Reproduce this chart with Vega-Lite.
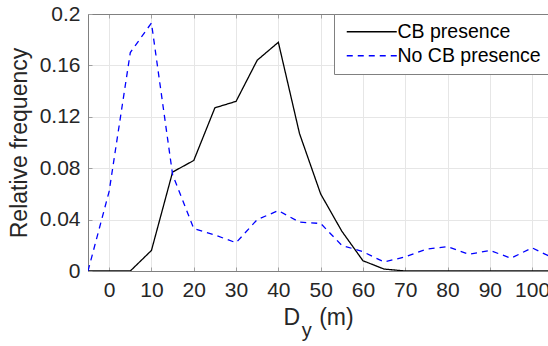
{
  "$schema": "https://vega.github.io/schema/vega-lite/v6.json",
  "width": 460,
  "height": 257,
  "autosize": {"type": "none"},
  "padding": {"left": 88, "top": 14, "right": 0, "bottom": 75},
  "background": "white",
  "config": {
    "view": {"stroke": null},
    "font": "Liberation Sans",
    "axis": {
      "labelFont": "Liberation Sans",
      "titleFont": "Liberation Sans",
      "labelColor": "#262626",
      "titleColor": "#262626",
      "domainColor": "#808080",
      "tickColor": "#a0a0a0",
      "gridColor": "#e6e6e6",
      "labelFontSize": 21,
      "titleFontSize": 23,
      "titleFontWeight": "normal"
    }
  },
  "data": {
    "values": [
      {"x": -5, "v": 0, "s": "CB presence"},
      {"x": 0, "v": 0, "s": "CB presence"},
      {"x": 5, "v": 0, "s": "CB presence"},
      {"x": 10, "v": 0.016, "s": "CB presence"},
      {"x": 15, "v": 0.077, "s": "CB presence"},
      {"x": 20, "v": 0.086, "s": "CB presence"},
      {"x": 25, "v": 0.127, "s": "CB presence"},
      {"x": 30, "v": 0.132, "s": "CB presence"},
      {"x": 35, "v": 0.164, "s": "CB presence"},
      {"x": 40, "v": 0.178, "s": "CB presence"},
      {"x": 45, "v": 0.107, "s": "CB presence"},
      {"x": 50, "v": 0.060, "s": "CB presence"},
      {"x": 55, "v": 0.031, "s": "CB presence"},
      {"x": 60, "v": 0.008, "s": "CB presence"},
      {"x": 65, "v": 0.0015, "s": "CB presence"},
      {"x": 70, "v": 0, "s": "CB presence"},
      {"x": 75, "v": 0, "s": "CB presence"},
      {"x": 80, "v": 0, "s": "CB presence"},
      {"x": 85, "v": 0, "s": "CB presence"},
      {"x": 90, "v": 0, "s": "CB presence"},
      {"x": 95, "v": 0, "s": "CB presence"},
      {"x": 100, "v": 0, "s": "CB presence"},
      {"x": 105, "v": 0, "s": "CB presence"},
      {"x": -5, "v": 0, "s": "No CB presence"},
      {"x": 0, "v": 0.062, "s": "No CB presence"},
      {"x": 5, "v": 0.170, "s": "No CB presence"},
      {"x": 10, "v": 0.193, "s": "No CB presence"},
      {"x": 15, "v": 0.075, "s": "No CB presence"},
      {"x": 20, "v": 0.033, "s": "No CB presence"},
      {"x": 25, "v": 0.028, "s": "No CB presence"},
      {"x": 30, "v": 0.022, "s": "No CB presence"},
      {"x": 35, "v": 0.040, "s": "No CB presence"},
      {"x": 40, "v": 0.047, "s": "No CB presence"},
      {"x": 45, "v": 0.038, "s": "No CB presence"},
      {"x": 50, "v": 0.037, "s": "No CB presence"},
      {"x": 55, "v": 0.020, "s": "No CB presence"},
      {"x": 60, "v": 0.015, "s": "No CB presence"},
      {"x": 65, "v": 0.007, "s": "No CB presence"},
      {"x": 70, "v": 0.011, "s": "No CB presence"},
      {"x": 75, "v": 0.017, "s": "No CB presence"},
      {"x": 80, "v": 0.019, "s": "No CB presence"},
      {"x": 85, "v": 0.013, "s": "No CB presence"},
      {"x": 90, "v": 0.016, "s": "No CB presence"},
      {"x": 95, "v": 0.010, "s": "No CB presence"},
      {"x": 100, "v": 0.018, "s": "No CB presence"},
      {"x": 105, "v": 0.010, "s": "No CB presence"}
    ]
  },
  "layer": [
    {
      "mark": {"type": "line", "opacity": 0},
      "encoding": {
        "x": {
          "field": "x", "type": "quantitative",
          "scale": {"domain": [-5, 103.75], "nice": false, "zero": false},
          "axis": {"orient": "top", "labels": false, "title": null, "grid": false, "values": [0,10,20,30,40,50,60,70,80,90,100], "tickSize": -4, "domain": true}
        },
        "y": {
          "field": "v", "type": "quantitative",
          "scale": {"domain": [0, 0.2], "nice": false},
          "axis": {"orient": "right", "labels": false, "title": null, "grid": false, "ticks": false, "domain": false}
        }
      }
    },
    {
      "layer": [
        {
          "mark": {"type": "line", "strokeWidth": 1.3, "clip": true},
          "encoding": {
            "x": {
              "field": "x", "type": "quantitative",
              "scale": {"domain": [-5, 103.75], "nice": false, "zero": false},
              "axis": {"orient": "bottom", "title": "D\u00a0\u00a0\u00a0(m)", "values": [0,10,20,30,40,50,60,70,80,90,100], "tickSize": -4, "labelPadding": 12, "titlePadding": 6, "grid": true}
            },
            "y": {
              "field": "v", "type": "quantitative",
              "scale": {"domain": [0, 0.2], "nice": false},
              "axis": {"orient": "left", "title": "Relative frequency", "values": [0, 0.04, 0.08, 0.12, 0.16, 0.2], "format": "~g", "tickSize": -4, "labelPadding": 12, "titlePadding": 8, "grid": true}
            },
            "color": {
              "field": "s", "type": "nominal",
              "scale": {"domain": ["CB presence", "No CB presence"], "range": ["#000000", "#0000ff"]},
              "legend": {
                "title": null, "orient": "none", "legendX": 246, "legendY": 0,
                "symbolType": "M-1,0H9", "symbolSize": 100, "symbolStrokeWidth": 1.3,
                "labelFont": "Liberation Sans", "labelFontSize": 19.5, "labelColor": "#000000",
                "labelOffset": 36, "rowPadding": 3, "padding": 8,
                "strokeColor": "#808080", "fillColor": "white"
              }
            },
            "strokeDash": {
              "field": "s", "type": "nominal",
              "scale": {"domain": ["CB presence", "No CB presence"], "range": [[1, 0], [6, 5]]},
              "legend": {
                "title": null, "orient": "none", "legendX": 246, "legendY": 0,
                "symbolType": "M-1,0H9", "symbolSize": 100, "symbolStrokeWidth": 1.3,
                "labelFont": "Liberation Sans", "labelFontSize": 19.5, "labelColor": "#000000",
                "labelOffset": 36, "rowPadding": 3, "padding": 8,
                "strokeColor": "#808080", "fillColor": "white"
              }
            }
          }
        },
        {
          "data": {"values": [{"t": "y", "x": 46.7, "v": -0.0513}]},
          "mark": {"type": "text", "font": "Liberation Sans", "fontSize": 20, "color": "#262626", "baseline": "alphabetic", "align": "center", "clip": false},
          "encoding": {
            "text": {"field": "t"},
            "x": {"field": "x", "type": "quantitative"},
            "y": {"field": "v", "type": "quantitative"}
          }
        }
      ]
    }
  ],
  "resolve": {"scale": {"x": "independent", "y": "independent"}}
}
